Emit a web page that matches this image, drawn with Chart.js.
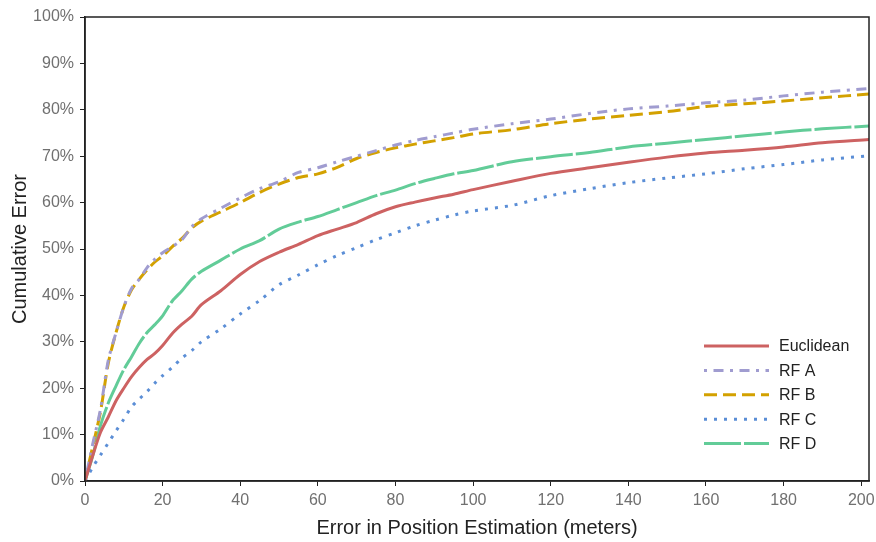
<!DOCTYPE html>
<html>
<head>
<meta charset="utf-8">
<script src="https://cdn.jsdelivr.net/npm/chart.js@4.4.1/dist/chart.umd.min.js"></script>
<style>
  html, body { margin: 0; padding: 0; background: #fff; }
  #wrap { width: 876px; height: 542px; position: relative; }
</style>
</head>
<body>
<div id="wrap"><canvas id="cdfChart"></canvas></div>
<script>
// --- dados ---
const errorMeters = [0, 2, 4, 6, 8, 10, 12, 14, 16, 18, 20, 22.5, 25, 27.5, 30, 35, 40, 45, 50, 55, 60, 65, 70, 75, 80, 85, 90, 95, 100, 110, 120, 130, 140, 150, 160, 170, 180, 190, 202];

const euclidean = [0, 5.5, 10.5, 13.8, 17.3, 20, 22.5, 24.5, 26.2, 27.5, 29.2, 31.8, 33.8, 35.5, 38, 41, 44.5, 47.3, 49.3, 51, 52.9, 54.3, 55.7, 57.6, 59.1, 60.1, 61, 61.8, 62.8, 64.6, 66.3, 67.5, 68.7, 69.8, 70.7, 71.3, 72, 72.9, 73.6];
const rfA = [0, 8, 15.5, 26, 32, 37.5, 41.5, 43.5, 46, 47.8, 49.2, 50.5, 52, 54.8, 56.5, 58.8, 61, 63, 64.5, 66.5, 67.5, 68.8, 70, 71.2, 72.4, 73.4, 74.2, 75, 75.8, 77, 78, 79.2, 80.2, 80.8, 81.5, 82.1, 83, 83.8, 84.6];
const rfB = [0, 7.5, 15, 25.4, 32, 37.5, 41.2, 43.5, 45.5, 47.2, 48.5, 50.5, 52.3, 54.5, 56, 58, 60, 62.2, 64, 65.4, 66.2, 67.6, 69.5, 70.8, 71.8, 72.6, 73.3, 74, 74.8, 75.7, 77, 78, 78.8, 79.6, 80.7, 81.3, 81.9, 82.6, 83.4];
const rfC = [0, 3, 5.6, 8.2, 10.8, 13.3, 16, 17.7, 19.3, 21.1, 22.7, 24.5, 26.5, 28.1, 30, 32.8, 36, 38.9, 42.3, 44.4, 46.6, 48.6, 50.3, 52, 53.5, 55, 56.2, 57.3, 58.2, 59.4, 61.5, 63, 64.3, 65.3, 66.2, 67.3, 68.2, 69.2, 70.1];
const rfD = [0, 5.5, 12, 16.8, 20.5, 24, 26.8, 29.7, 32, 33.7, 35.6, 38.8, 41, 43.5, 45.2, 47.6, 50, 51.8, 54.3, 55.8, 57, 58.5, 60, 61.5, 62.7, 64.1, 65.2, 66.2, 66.9, 68.8, 69.9, 70.8, 72, 72.8, 73.6, 74.4, 75.2, 75.9, 76.5];

const seriesNames = ['Euclidean', 'RF A', 'RF B', 'RF C', 'RF D'];
const seriesValues = [euclidean, rfA, rfB, rfC, rfD];

// estilos (cores e tracejados)
const CORES = ['#cd6262', '#a09cd0', '#d3a100', '#5b8ed6', '#62cc98'];
const TRACOS = [[], [3, 6.5, 10, 6.5], [13, 6], [3, 7], [37, 3]];
const FONTE = '"Liberation Sans", Arial, sans-serif';

function montarPontos(valores) {
    return errorMeters.map((x, i) => ({ x: x, y: valores[i] }));
}

// legenda desenhada dentro da área do gráfico (canto inferior direito)
const legendaInterna = {
    id: 'legendaInterna',
    afterDraw(chart) {
        const ctx = chart.ctx;
        ctx.save();
        chart.data.datasets.forEach((ds, i) => {
            const y = 346 + i * 24.4;
            ctx.beginPath();
            ctx.strokeStyle = ds.borderColor;
            ctx.lineWidth = 3;
            ctx.setLineDash(ds.borderDash || []);
            ctx.moveTo(704, y);
            ctx.lineTo(769, y);
            ctx.stroke();
            ctx.setLineDash([]);
            ctx.fillStyle = '#222';
            ctx.font = '16px ' + FONTE;
            ctx.textBaseline = 'middle';
            ctx.fillText(ds.label, 779, y + 1);
        });
        // moldura do gráfico
        const a = chart.chartArea;
        ctx.strokeStyle = '#222';
        ctx.lineWidth = 1.5;
        ctx.strokeRect(a.left, a.top, a.right - a.left, a.bottom - a.top);
        ctx.restore();
    }
};

new Chart(document.getElementById('cdfChart'), {
    type: 'line',
    data: {
        datasets: seriesNames.map((nome, i) => ({
            label: nome,
            data: montarPontos(seriesValues[i]),
            borderColor: CORES[i],
            borderDash: TRACOS[i],
            borderWidth: 3,
            pointRadius: 0,
            tension: 0.3,
            fill: false
        }))
    },
    options: {
        responsive: true,
        maintainAspectRatio: false,
        animation: false,
        layout: { padding: { top: 17, right: 7, left: 0, bottom: 0 } },
        plugins: {
            legend: { display: false },
            tooltip: { enabled: false }
        },
        scales: {
            x: {
                type: 'linear',
                min: 0,
                max: 202,
                afterFit(scale) {
                    scale.height = 61;
                    scale.paddingRight = 0;
                    scale.paddingLeft = 0;
                },
                border: { display: true, color: '#222', width: 1.5 },
                grid: { drawOnChartArea: false, drawTicks: true, tickLength: 5, color: '#222' },
                ticks: {
                    stepSize: 20,
                    includeBounds: false,
                    color: '#707070',
                    padding: 5,
                    font: { size: 16, family: FONTE }
                },
                title: {
                    display: true,
                    text: 'Error in Position Estimation (meters)',
                    color: '#222',
                    padding: { top: 10, bottom: 2 },
                    font: { size: 20, family: FONTE }
                }
            },
            y: {
                min: 0,
                max: 100,
                afterFit(scale) { scale.width = 85; },
                border: { display: true, color: '#222', width: 1.5 },
                grid: { drawOnChartArea: false, drawTicks: true, tickLength: 5, color: '#222' },
                ticks: {
                    stepSize: 10,
                    color: '#707070',
                    padding: 6,
                    font: { size: 16, family: FONTE },
                    callback: (v) => v + '%'
                },
                title: {
                    display: true,
                    text: 'Cumulative Error',
                    color: '#222',
                    padding: { top: 8, bottom: 2 },
                    font: { size: 20, family: FONTE }
                }
            }
        }
    },
    plugins: [legendaInterna]
});
</script>
</body>
</html>
